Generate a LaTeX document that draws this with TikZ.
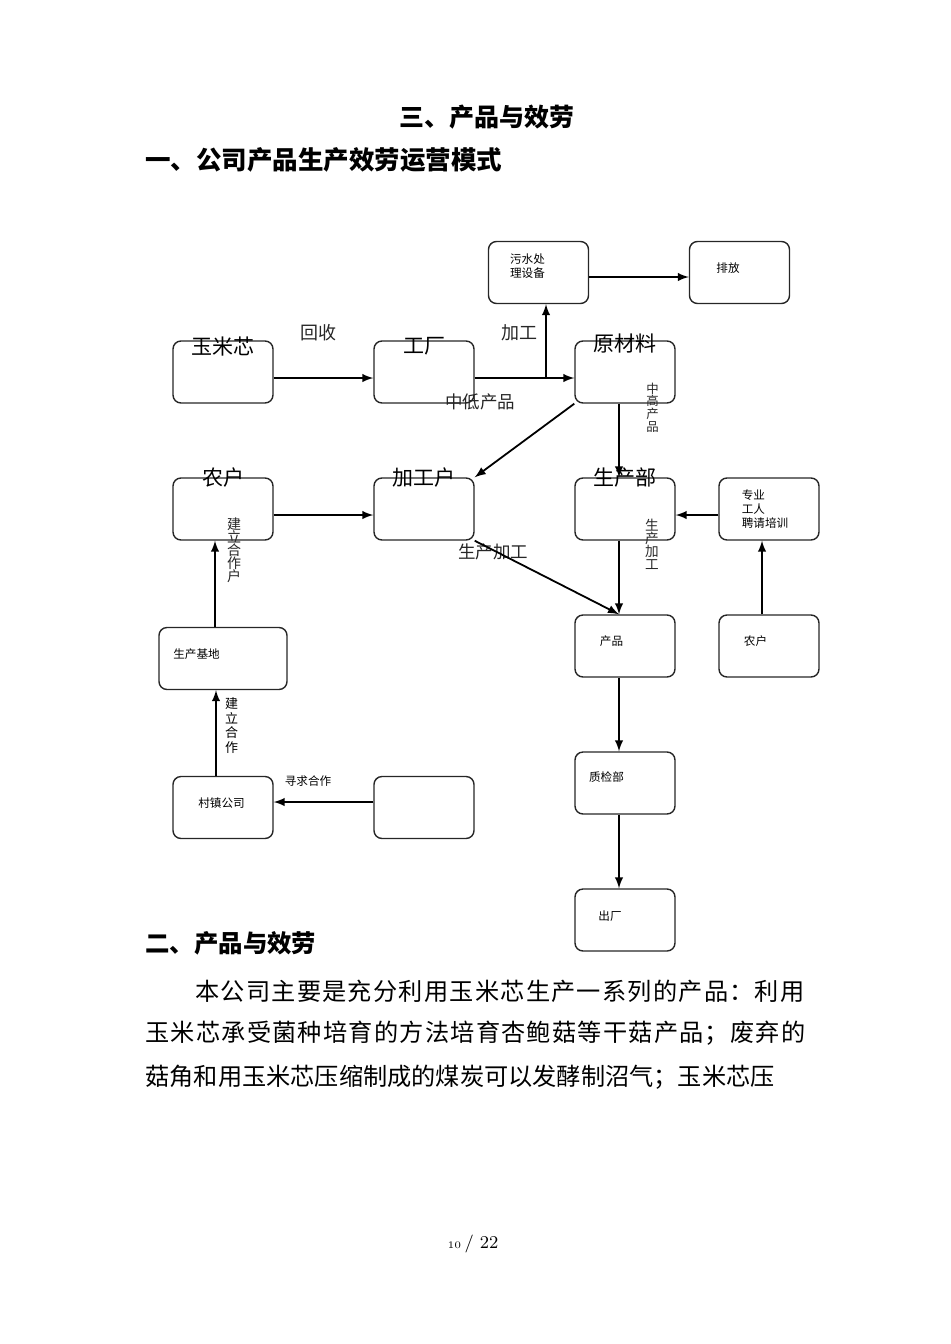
\documentclass[tikz,border=0pt]{standalone}
\usepackage{fontspec}
\newfontfamily\cjk{Noto Sans CJK SC}
\newfontfamily\cjkwide[LetterSpace=5.1]{Noto Sans CJK SC}
\setlength{\lineskiplimit}{-10pt}

\tikzstyle{arrow} = [line width=0.9pt,->,>=latex]
\tikzstyle{box} = [
        rectangle,
        rounded corners=4pt,
        minimum width=50pt,
        minimum height=31pt,
        draw=black!85,
        line width=0.7pt
    ]
\tikzstyle{bigtext} = [
        font=\cjk\fontsize{10.5}{12}\selectfont,
        anchor=center
    ]
\tikzstyle{boxtext} = [
        font=\cjk\fontsize{5.8}{7}\selectfont,
        align=left
    ]
\tikzstyle{linetext} = [
        font=\cjk\fontsize{8.75}{10}\selectfont,
        text=black!85
    ]
\tikzstyle{uptext} = [
        font=\cjk\fontsize{6.8}{6.5}\selectfont,
        align=center,
        inner sep=0pt,
        text=black!85
    ]
\tikzstyle{title} = [
        font=\cjk\bfseries\fontsize{12.5}{14}\selectfont
    ]
\tikzstyle{body} = [
        font=\cjkwide\fontsize{12.1}{15}\selectfont,
        anchor=west,
        inner sep=0pt
    ]

\begin{document}
\begin{tikzpicture}[x=0.5pt, y=-0.5pt, node distance=100.5pt]

        \useasboundingbox (0,0) rectangle (950,1344);

        \node [title, anchor=center] (biaoti1) at (487,117) {三、产品与效劳};
        \node [title, anchor=west, inner sep=0pt, font=\cjk\bfseries\fontsize{12.75}{14}\selectfont] (biaoti2) at (145,160) {一、公司产品生产效劳运营模式};

        % first row
        \node [box, label={[bigtext, yshift=-3pt]north:玉米芯}] (yumixin) at (223,372) {};
        \node [box, right of=yumixin, label={[bigtext, yshift=-3pt]north:工厂}] (gongchang) {};
        \node [box, right of=gongchang, label={[bigtext, yshift=-1.5pt]north:原材料}] (yuancailiao) {};
        \node [box, label={[boxtext, xshift=-5.5pt, yshift=3.25pt]center:污水处\\理设备}] (wushui) at (538.5,272.5) {};
        \node [box, right of=wushui, label={[boxtext, xshift=-5.75pt, yshift=2.25pt]center:排放}] (paifang) {};

        % second row
        \node [box, below of=yumixin, yshift=32pt, label={[bigtext]north:农户}] (nonghu1) {};
        \node [box, below of=gongchang, yshift=32pt, label={[bigtext]north:加工户}] (jiagonghu) {};
        \node [box, below of=yuancailiao, yshift=32pt, label={[bigtext]north:生产部}] (shengchanbu) {};
        \node [box, right of=shengchanbu, node distance=72pt, label={[boxtext, xshift=-2pt]center:专业\\工人\\聘请培训}] (zhuanye) {};

        \node [box, below of=shengchanbu, yshift=32pt, label={[boxtext, xshift=-6.75pt, yshift=2.5pt]center:产品}] (chanpin) {};
        \node [box, below of=zhuanye, yshift=32pt, label={[boxtext, xshift=-6.75pt, yshift=2.5pt]center:农户}] (nonghu2) {};
        \node [box, below of=chanpin, yshift=32pt, label={[boxtext, xshift=-9.25pt, yshift=2.75pt]center:质检部}] (zhijian) {};
        \node [box, below of=zhijian, yshift=32pt, label={[boxtext, xshift=-7.5pt, yshift=2pt]center:出厂}] (chuchang) {};

        \node [box, minimum width=64pt, below of=nonghu1, yshift=25.75pt, label={[boxtext, xshift=-13.25pt, yshift=2pt]center:生产基地}] (jidi) {};
        \node [box, below of=jidi, yshift=26pt, label={[boxtext, xshift=-0.75pt, yshift=2.25pt]center:村镇公司}] (cunzhen) {};
        \node [box, right of=cunzhen] (kong) {};

        % texts on the lines
        \node [linetext, font=\cjk\fontsize{9}{10}\selectfont] (huishou) at (318,333) {回收};
        \node [linetext, font=\cjk\fontsize{9}{10}\selectfont] (jiagong) at (519.5,333) {加工};
        \node [linetext] (zhongdi) at (480,401.5) {中低产品};
        \node [linetext] (shengchan1) at (493,552) {生产加工};
        \node [uptext, font=\cjk\fontsize{6.2}{6.4}\selectfont] (zhonggao) at (652.5,407.5) {中\\高\\产\\品};
        \node [uptext] (shengchan2) at (652,544) {生\\产\\加\\工};
        \node [uptext, font=\cjk\fontsize{7}{6.5}\selectfont] (jianli1) at (234,550.5) {建\\立\\合\\作\\户};
        \node [uptext, font=\cjk\fontsize{6.5}{7.2}\selectfont, text=black] (jianli2) at (231.5,725.5) {建\\立\\合\\作};
        \node [boxtext] (xunqiu) at (308,781) {寻求合作};

        \coordinate (fenliu) at (546,378);

        \draw [arrow] ([yshift=-3pt]yumixin.east) -- ([yshift=-3pt]gongchang.west);
        \draw [arrow] ([yshift=-3pt]gongchang.east) -- ([yshift=-3pt]yuancailiao.west);
        \draw [arrow] (fenliu) -- (fenliu |- wushui.south);
        \draw [arrow] ([yshift=-2.25pt]wushui.east) -- ([yshift=-2.25pt]paifang.west);
        \draw [arrow] (yuancailiao.south west) -- (jiagonghu.north east);
        \draw [arrow] ([xshift=-3pt]yuancailiao.south) -- ([xshift=-3pt]shengchanbu.north);
        \draw [arrow] ([yshift=-3pt]nonghu1.east) -- ([yshift=-3pt]jiagonghu.west);
        \draw [arrow] ([xshift=-4pt]nonghu1.south |- jidi.north) -- ([xshift=-4pt]nonghu1.south);
        \draw [arrow] ([xshift=-3.5pt]cunzhen.north) -- ([xshift=-3.5pt]cunzhen.north |- jidi.south);
        \draw [arrow] ([yshift=2.75pt]kong.west) -- ([yshift=2.75pt]cunzhen.east);
        \draw [arrow] (jiagonghu.south east) -- ([xshift=-3pt]chanpin.north);
        \draw [arrow] ([xshift=-3pt]shengchanbu.south) -- ([xshift=-3pt]chanpin.north);
        \draw [arrow] ([xshift=-3.5pt]nonghu2.north) -- ([xshift=-3.5pt]zhuanye.south);
        \draw [arrow] ([yshift=-3pt]zhuanye.west) -- ([yshift=-3pt]shengchanbu.east);
        \draw [arrow] ([xshift=-3pt]chanpin.south) -- ([xshift=-3pt]zhijian.north);
        \draw [arrow] ([xshift=-3pt]zhijian.south) -- ([xshift=-3pt]chuchang.north);

        % text below
        \node [title, anchor=west, inner sep=0pt, font=\cjk\bfseries\fontsize{12.2}{14}\selectfont] (biaoti3) at (145,943) {二、产品与效劳};
        \node [body] (hang1) at (195,991) {本公司主要是充分利用玉米芯生产一系列的产品：利用};
        \node [body] (hang2) at (145,1033) {玉米芯承受菌种培育的方法培育杏鲍菇等干菇产品；废弃的};
        \node [body, font=\cjk\fontsize{12.1}{15}\selectfont] (hang3) at (145,1077) {菇角和用玉米芯压缩制成的煤炭可以发酵制沼气；玉米芯压};

        \node [anchor=base] (yema) at (473,1248) {{\fontsize{5}{6}\selectfont 10}\,{\fontsize{9}{11}\selectfont / 22}};

\end{tikzpicture}
\end{document}
